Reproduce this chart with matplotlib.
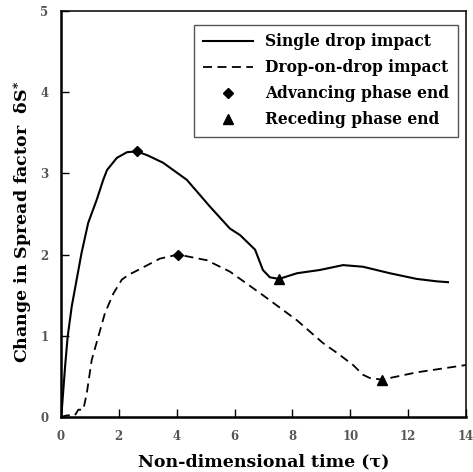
import numpy as np
import matplotlib
matplotlib.use("Agg")
import matplotlib.pyplot as plt

# single drop impact (tau, dS*)
single_t = [0.0, 0.02, 0.14, 0.23, 0.37, 0.54, 0.71, 0.94, 1.23, 1.35, 1.46, 1.59, 1.93,
            2.28, 2.62, 3.0, 3.53, 4.35, 5.15, 5.84, 6.19, 6.71, 6.98, 7.22, 7.54, 8.16,
            8.95, 9.75, 10.44, 11.37, 12.3, 13.0, 13.38]
single_s = [0.0, 0.05, 0.62, 0.99, 1.36, 1.69, 2.02, 2.39, 2.67, 2.8, 2.92, 3.04, 3.19,
            3.26, 3.27, 3.22, 3.13, 2.92, 2.59, 2.32, 2.24, 2.06, 1.81, 1.72, 1.70, 1.77,
            1.81, 1.87, 1.85, 1.77, 1.70, 1.67, 1.66]

# drop-on-drop impact
dod_t = [0.0, 0.2, 0.48, 0.6, 0.77, 0.89, 1.06, 1.29, 1.52, 1.81, 2.1, 2.33, 2.56,
         3.42, 4.05, 5.04, 5.84, 6.98, 8.16, 9.06, 9.54, 10.1, 10.44, 10.68, 11.1,
         12.3, 14.0]
dod_s = [0.0, 0.02, 0.02, 0.09, 0.09, 0.29, 0.70, 0.99, 1.28, 1.52, 1.69, 1.75, 1.79,
         1.95, 2.0, 1.93, 1.79, 1.50, 1.19, 0.91, 0.79, 0.64, 0.52, 0.48, 0.46,
         0.55, 0.64]

# phase end markers
adv_t = [2.62, 4.05]
adv_s = [3.27, 2.0]
rec_t = [7.54, 11.1]
rec_s = [1.70, 0.46]

plt.rcParams["font.family"] = "DejaVu Serif"
plt.rcParams["font.weight"] = "bold"
plt.rcParams["mathtext.fontset"] = "dejavuserif"

fig = plt.figure(figsize=(4.73, 4.72), dpi=100)
ax = fig.add_axes([0.129, 0.1165, 0.856, 0.8605])

ax.plot(single_t, single_s, color="black", lw=1.5, label="Single drop impact")
ax.plot(dod_t, dod_s, color="black", lw=1.3, ls=(0, (5, 3)), label="Drop-on-drop impact")
ax.plot(adv_t, adv_s, ls="none", marker="D", ms=5, color="black", label="Advancing phase end")
ax.plot(rec_t, rec_s, ls="none", marker="^", ms=7, color="black", label="Receding phase end")

ax.set_xlim(0, 14)
ax.set_ylim(0, 5)
ax.set_xticks(range(0, 15, 2))
ax.set_yticks(range(0, 6))
ax.tick_params(direction="in", length=6, width=1, labelsize=8.5, labelcolor="#555555",
               pad=9, top=False, right=False)
for s in ax.spines.values():
    s.set_linewidth(1.1)
ax.spines["bottom"].set_linewidth(1.8)
ax.spines["left"].set_linewidth(1.8)

ax.set_xlabel("Non-dimensional time (τ)", fontsize=12.5, fontweight="bold")
ax.xaxis.set_label_coords(0.5, -0.09)
ax.set_ylabel(r"Change in Spread factor  δS$^{\ast}$", fontsize=12.5, fontweight="bold")
ax.yaxis.set_label_coords(-0.07, 0.48)

leg = ax.legend(loc="upper right", bbox_to_anchor=(0.980, 0.966), borderaxespad=0,
                fontsize=11.2, frameon=True, fancybox=False, framealpha=1,
                edgecolor="#555555", handlelength=3.2, borderpad=0.55, labelspacing=0.58)
leg.get_frame().set_linewidth(1.0)

fig.savefig("out.png", dpi=100)
